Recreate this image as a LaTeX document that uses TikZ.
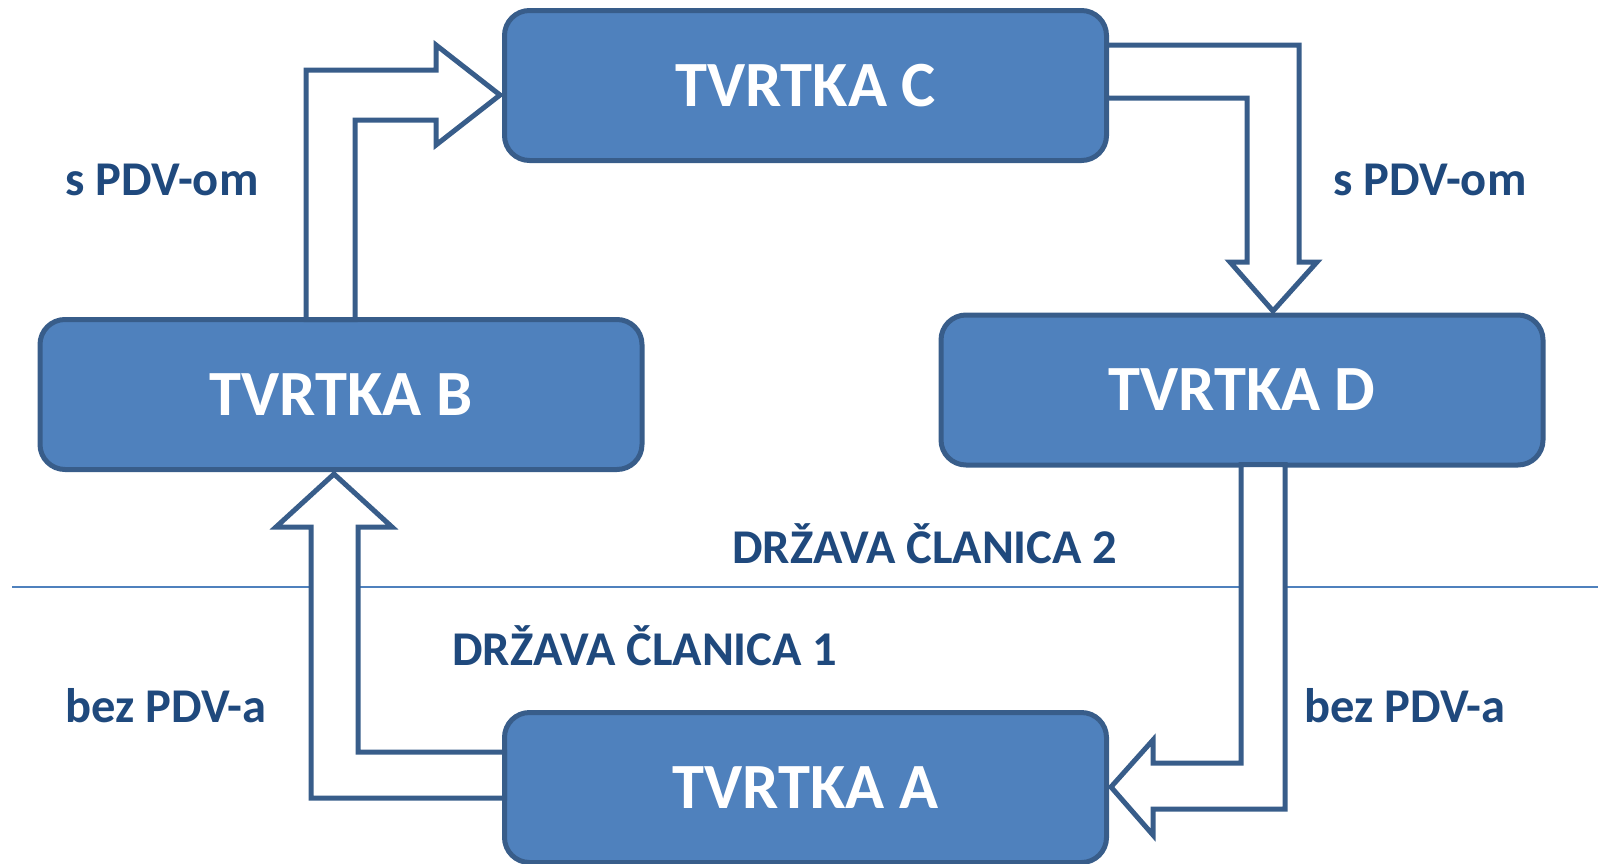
\documentclass[tikz,border=0pt]{standalone}
\usepackage{fontspec}
\setmainfont{Carlito}
\definecolor{boxfill}{HTML}{4F81BD}
\definecolor{boxline}{HTML}{385D8A}
\definecolor{txtblue}{HTML}{1F497D}
\definecolor{sepcol}{HTML}{4F81BD}
\tikzset{
  firm/.style={draw=boxline, fill=boxfill, line width=5pt, rounded corners=25pt,
    minimum width=602pt, minimum height=150pt, inner sep=0pt,
    text=white, font=\fontsize{64.5}{64.5}\selectfont\bfseries},
  lbl/.style={anchor=base, text=txtblue, inner sep=0pt,
    font=\fontsize{48.5}{48.5}\selectfont\bfseries},
  blockarrow/.style={draw=boxline, fill=white, line width=5pt, line join=miter},
  sepline/.style={draw=sepcol, line width=2pt}
}
\begin{document}
\begin{tikzpicture}[x=1pt,y=-1pt]
\useasboundingbox (0,0) rectangle (1598,863);
% separator line
\coordinate (sepL) at (12,587);
\coordinate (sepR) at (1598,587);
\draw[sepline] (sepL) -- (sepR);
% boxes
\node[firm] (C) at (805.5,85.5) {TVRTKA C};
\node[firm] (B) at (341,394.5) {TVRTKA B};
\node[firm] (D) at (1242,390) {TVRTKA D};
\node[firm] (A) at (805.5,787.5) {TVRTKA A};
% block arrows
% B -> C
\draw[blockarrow] (306,319.5) -- (306,70) -- (436,70) -- (436,45) -- (500,95)
  -- (436,145) -- (436,120) -- (355,120) -- (355,319.5) -- cycle;
% C -> D
\draw[blockarrow] (1106.5,45) -- (1299,45) -- (1299,262) -- (1317,262) -- (1273,311)
  -- (1230,262) -- (1247,262) -- (1247,98) -- (1106.5,98) -- cycle;
% D -> A
\draw[blockarrow] (1241,464.5) -- (1241,763) -- (1153,763) -- (1153,740) -- (1111,787)
  -- (1153,835) -- (1153,809) -- (1285,809) -- (1285,464.5) -- cycle;
% A -> B
\draw[blockarrow] (504.5,798) -- (311,798) -- (311,527) -- (276,527) -- (334,474)
  -- (392,527) -- (358,527) -- (358,752) -- (504.5,752) -- cycle;
% labels
\node[lbl] (l1) at (162,195) {s PDV-om};
\node[lbl] (l2) at (1430,195) {s PDV-om};
\node[lbl] (l3) at (166,722) {bez PDV-a};
\node[lbl] (l4) at (1405,722) {bez PDV-a};
\node[lbl] (m2) at (925,563) {DRŽAVA ČLANICA 2};
\node[lbl] (m1) at (645,665) {DRŽAVA ČLANICA 1};
\end{tikzpicture}
\end{document}
